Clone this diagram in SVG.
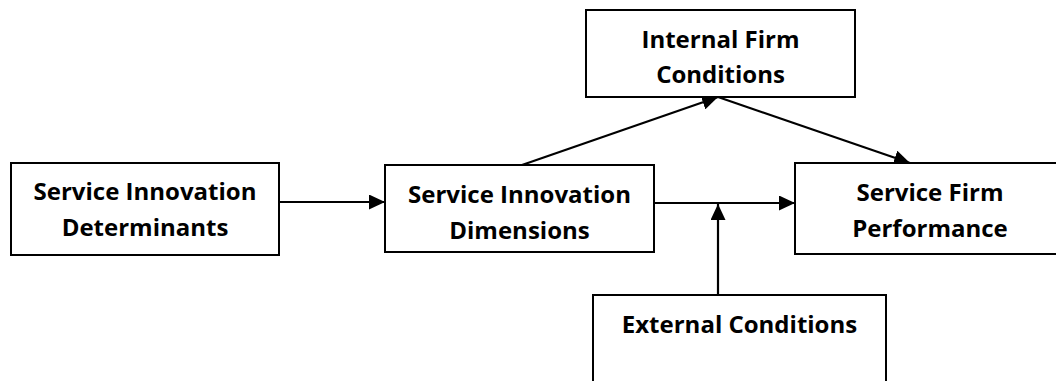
<svg xmlns="http://www.w3.org/2000/svg" width="1056" height="381" viewBox="0 0 1056 381">
  <style>
    .box { fill: #ffffff; stroke: #000000; stroke-width: 2; }
    .lbl { font-family: "Open Sans", "Liberation Sans", sans-serif; font-weight: bold; font-size: 24px; fill: #000000; text-anchor: middle; }
    .edge { fill: none; stroke: #000000; stroke-width: 2.2; }
  </style>
  <defs>
    <marker id="arrow" viewBox="0 0 16 15" refX="16" refY="7.5" markerWidth="16" markerHeight="15" markerUnits="userSpaceOnUse" orient="auto">
      <path d="M0,0 L16,7.5 L0,15 Z" fill="#000000"/>
    </marker>
  </defs>
  <rect width="1056" height="381" fill="#ffffff"/>

  <g id="connectors">
    <line class="edge" x1="279" y1="202" x2="385" y2="202" marker-end="url(#arrow)"/>
    <line class="edge" x1="654" y1="203" x2="795" y2="203" marker-end="url(#arrow)"/>
    <line class="edge" x1="718" y1="295" x2="718" y2="204" marker-end="url(#arrow)"/>
    <line class="edge" x1="522" y1="165" x2="718" y2="97" marker-end="url(#arrow)"/>
    <line class="edge" x1="718" y1="97" x2="910" y2="163" marker-end="url(#arrow)"/>
  </g>

  <g id="determinants">
    <rect class="box" x="11" y="163" width="268" height="92"/>
    <text class="lbl" x="145" y="200">Service Innovation</text>
    <text class="lbl" x="145" y="236">Determinants</text>
  </g>

  <g id="dimensions">
    <rect class="box" x="385" y="165" width="269" height="87"/>
    <text class="lbl" x="519.5" y="203">Service Innovation</text>
    <text class="lbl" x="519.5" y="239">Dimensions</text>
  </g>

  <g id="internal">
    <rect class="box" x="586" y="10" width="269" height="87"/>
    <text class="lbl" x="720.5" y="48">Internal Firm</text>
    <text class="lbl" x="720.5" y="83">Conditions</text>
  </g>

  <g id="performance">
    <rect class="box" x="795" y="163" width="270" height="91"/>
    <text class="lbl" x="930" y="201">Service Firm</text>
    <text class="lbl" x="930" y="237">Performance</text>
  </g>

  <g id="external">
    <rect class="box" x="593" y="295" width="293" height="100"/>
    <text class="lbl" x="739.5" y="333">External Conditions</text>
  </g>
</svg>
